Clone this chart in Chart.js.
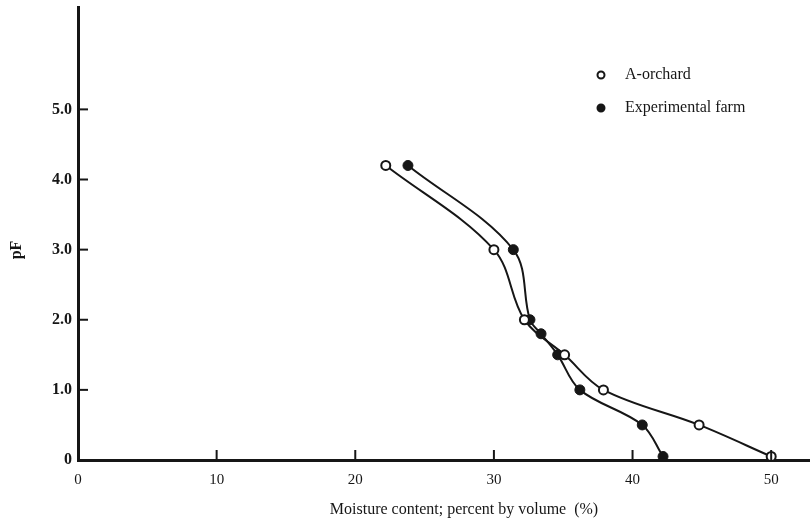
<!DOCTYPE html>
<html><head><meta charset="utf-8">
<script src="https://cdn.jsdelivr.net/npm/chart.js@4/dist/chart.umd.min.js"></script>
<style>html,body{margin:0;padding:0;background:#fff}#wrap{width:810px;height:523px}</style>
</head><body><div id="wrap"><canvas id="c" width="810" height="523"></canvas></div>
<script>
const seriesNames = ["A-orchard", "Experimental farm"];
const orchardMoisture = [22.2, 30.0, 32.2, 35.1, 37.9, 44.8, 50.0];
const orchardPF = [4.2, 3.0, 2.0, 1.5, 1.0, 0.5, 0.05];
const farmMoisture = [23.8, 31.4, 32.6, 33.4, 34.6, 36.2, 40.7, 42.2];
const farmPF = [4.2, 3.0, 2.0, 1.8, 1.5, 1.0, 0.5, 0.05];
const xTicks = [0, 10, 20, 30, 40, 50];
const yTicks = [0, 1, 2, 3, 4, 5];
const xTitle = "Moisture content; percent by volume  (%)";
const yTitle = "pF";

const FONT = "'Liberation Serif', 'DejaVu Serif', serif";
const INK = '#161616';
function pts(xs, ys){ return xs.map((x,i)=>({x:x, y:ys[i]})); }

const extras = {
  id:'extras',
  afterDraw(chart){
    const ctx = chart.ctx, xs = chart.scales.x, ys = chart.scales.y, a = chart.chartArea;
    ctx.save(); ctx.strokeStyle = INK; ctx.lineWidth = 2;
    xTicks.forEach(v=>{ if(v===0) return; const p = xs.getPixelForValue(v);
      ctx.beginPath(); ctx.moveTo(p, a.bottom); ctx.lineTo(p, a.bottom-10); ctx.stroke(); });
    yTicks.forEach(v=>{ if(v===0) return; const p = ys.getPixelForValue(v);
      ctx.beginPath(); ctx.moveTo(a.left, p); ctx.lineTo(a.left+10, p); ctx.stroke(); });
    // axis titles
    ctx.fillStyle = INK; ctx.textAlign = 'center'; ctx.textBaseline = 'middle';
    ctx.font = "16px " + FONT;
    ctx.fillText(xTitle, 464, 510);
    ctx.save(); ctx.translate(17, 250); ctx.rotate(-Math.PI/2);
    ctx.font = "bold 16px " + FONT; ctx.fillText(yTitle, 0, 0); ctx.restore();
    // legend
    ctx.textAlign = 'left';
    ctx.font = "16px " + FONT;
    const lx = 601, ly = [75, 108];
    chart.data.datasets.forEach((ds,i)=>{
      ctx.beginPath(); ctx.arc(lx, ly[i], 3.5, 0, Math.PI*2);
      ctx.fillStyle = ds.pointBackgroundColor; ctx.fill();
      ctx.lineWidth = 2; ctx.strokeStyle = INK; ctx.stroke();
      ctx.fillStyle = INK; ctx.fillText(ds.label, lx+24, ly[i]);
    });
    ctx.restore();
  }
};

new Chart(document.getElementById('c'), {
  type:'scatter',
  data:{ datasets:[
    { label: seriesNames[0], data: pts(orchardMoisture, orchardPF), showLine:true, tension:0.35,
      borderColor: INK, borderWidth:2, pointRadius:4.5, pointBorderWidth:2,
      pointBackgroundColor:'#ffffff', pointBorderColor: INK },
    { label: seriesNames[1], data: pts(farmMoisture, farmPF), showLine:true, tension:0.35,
      borderColor: INK, borderWidth:2, pointRadius:5, pointBorderWidth:1,
      pointBackgroundColor: INK, pointBorderColor: INK }
  ]},
  options:{
    responsive:false, animation:false, devicePixelRatio:1,
    layout:{ autoPadding:false, padding:{ top:7, right:0, left:0, bottom:0 } },
    plugins:{ legend:{display:false}, tooltip:{enabled:false} },
    scales:{
      x:{ type:'linear', min:0, max:52.8,
        afterBuildTicks(s){ s.ticks = xTicks.map(v=>({value:v})); },
        afterFit(s){ s.height = 63; s.paddingRight = 0; s.paddingLeft = 0; },
        grid:{ display:false, drawTicks:false },
        border:{ display:true, color:INK, width:3 },
        ticks:{ color:INK, font:{ family:FONT, size:15 }, padding:11, maxRotation:0,
          callback:(v)=>String(v) },
        title:{ display:false, text:xTitle }
      },
      y:{ type:'linear', min:0, max:6.46,
        afterBuildTicks(s){ s.ticks = yTicks.map(v=>({value:v})); },
        afterFit(s){ s.width = 78; s.paddingTop = 0; s.paddingBottom = 0; },
        grid:{ display:false, drawTicks:false },
        border:{ display:true, color:INK, width:3 },
        ticks:{ color:INK, font:{ family:FONT, size:16, weight:'bold' }, padding:6,
          callback:(v)=> v===0 ? '0' : Number(v).toFixed(1) },
        title:{ display:false, text:yTitle }
      }
    }
  },
  plugins:[extras]
});
</script>
</body></html>
